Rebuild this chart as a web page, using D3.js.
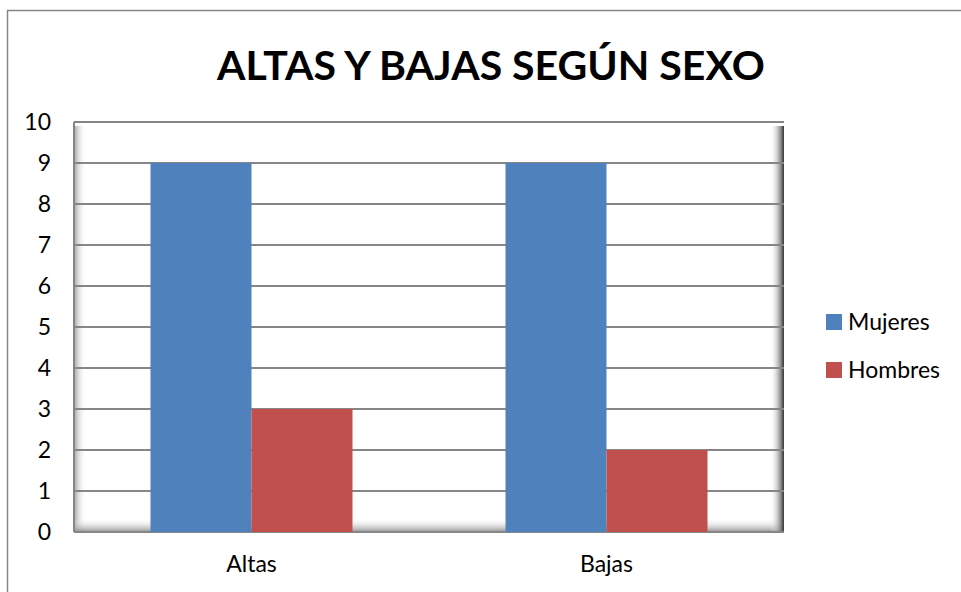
<!DOCTYPE html>
<html>
<head>
<meta charset="utf-8">
<script src="https://cdn.jsdelivr.net/npm/d3@7"></script>
<style>
  body { margin: 0; background: #fff; }
  text { font-family: Lato, "Open Sans", sans-serif; fill: #000; }
</style>
</head>
<body>
<svg width="961" height="592"></svg>
<script>
var categories = ["Altas", "Bajas"];
var seriesNames = ["Mujeres", "Hombres"];
var mujeres = [9, 9];
var hombres = [3, 2];
var yTicks = [0, 1, 2, 3, 4, 5, 6, 7, 8, 9, 10];
var colors = ["#4f81bd", "#c0504d"];

var svg = d3.select("svg");
var defs = svg.append("defs");

// outer frame
svg.append("rect")
    .attr("x", 7.5).attr("y", 10.5)
    .attr("width", 960).attr("height", 600)
    .attr("fill", "#fff").attr("stroke", "#868686").attr("stroke-width", 1.5);

svg.append("text")
    .attr("x", 491).attr("y", 80)
    .attr("text-anchor", "middle")
    .style("font-size", "41px").style("font-weight", "bold")
    .text("ALTAS Y BAJAS SEGÚN SEXO");

var pLeft = 74, pRight = 784, pTop = 122, pBottom = 532;

var x = d3.scaleBand().domain(categories).range([pLeft, pRight]);
var x1 = d3.scaleBand().domain(seriesNames).range([0, 202]);
var y = d3.scaleLinear().domain([0, 10]).range([pBottom, pTop]);

// bevel gradients
function grad(id, x1v, y1v, x2v, y2v, stops) {
    var g = defs.append("linearGradient").attr("id", id)
        .attr("x1", x1v).attr("y1", y1v).attr("x2", x2v).attr("y2", y2v);
    stops.forEach(function(s) {
        g.append("stop").attr("offset", s[0]).attr("stop-color", s[1]).attr("stop-opacity", s[2]);
    });
}
grad("gl", 0, 0, 1, 0, [[0, "#999", 0.9], [1, "#fff", 0]]);
grad("gb", 0, 1, 0, 0, [[0, "#888", 0.9], [1, "#fff", 0]]);
grad("gr", 1, 0, 0, 0, [[0, "#333", 1], [0.3, "#888", 0.8], [1, "#fff", 0]]);

var plot = svg.append("g");
plot.append("rect").attr("x", pLeft).attr("y", pTop)
    .attr("width", pRight - pLeft).attr("height", pBottom - pTop).attr("fill", "#fff");
plot.append("rect").attr("x", pLeft).attr("y", pTop + 4)
    .attr("width", 12).attr("height", pBottom - pTop - 4).attr("fill", "url(#gl)");
plot.append("rect").attr("x", pLeft).attr("y", pBottom - 14)
    .attr("width", pRight - pLeft).attr("height", 14).attr("fill", "url(#gb)");
plot.append("rect").attr("x", pRight - 14).attr("y", pTop + 4)
    .attr("width", 14).attr("height", pBottom - pTop - 4).attr("fill", "url(#gr)");

// gridlines
plot.selectAll(".grid")
    .data(yTicks)
    .enter()
    .append("line")
    .attr("x1", pLeft).attr("x2", pRight)
    .attr("y1", function(d) { return y(d); })
    .attr("y2", function(d) { return y(d); })
    .attr("stroke", "#868686").attr("stroke-width", 2);

plot.append("line").attr("x1", pLeft).attr("x2", pLeft)
    .attr("y1", pTop).attr("y2", pBottom)
    .attr("stroke", "#868686").attr("stroke-width", 2);

// bars
var rows = categories.map(function(c, i) {
    return { cat: c, vals: [mujeres[i], hombres[i]] };
});
var groups = svg.selectAll(".grp")
    .data(rows)
    .enter()
    .append("g")
    .attr("transform", function(d) { return "translate(" + (x(d.cat) + (x.bandwidth() - 202) / 2) + ",0)"; });

groups.selectAll("rect")
    .data(function(d) { return d.vals.map(function(v, j) { return { s: seriesNames[j], v: v, j: j }; }); })
    .enter()
    .append("rect")
    .attr("x", function(d) { return x1(d.s); })
    .attr("y", function(d) { return y(d.v); })
    .attr("width", x1.bandwidth())
    .attr("height", function(d) { return y(0) - y(d.v); })
    .attr("fill", function(d) { return colors[d.j]; });

// axes
var yAxis = svg.append("g")
    .attr("transform", "translate(51,0)")
    .call(d3.axisLeft(y).tickValues(yTicks).tickSize(0).tickPadding(0));
yAxis.select(".domain").remove();
yAxis.selectAll("text").style("font-size", "23px").style("font-family", "Lato, sans-serif");

var xAxis = svg.append("g")
    .attr("transform", "translate(0," + pBottom + ")")
    .call(d3.axisBottom(x).tickSize(0).tickPadding(24));
xAxis.select(".domain").remove();
xAxis.selectAll("text").style("font-size", "23px").style("font-family", "Lato, sans-serif");

// legend
var legend = svg.selectAll(".leg")
    .data(seriesNames)
    .enter()
    .append("g")
    .attr("transform", function(d, i) { return "translate(826," + (314 + i * 48) + ")"; });
legend.append("rect").attr("width", 16).attr("height", 16)
    .attr("fill", function(d, i) { return colors[i]; });
legend.append("text").attr("x", 22).attr("y", 16)
    .style("font-size", "23px")
    .text(function(d) { return d; });
</script>
</body>
</html>
